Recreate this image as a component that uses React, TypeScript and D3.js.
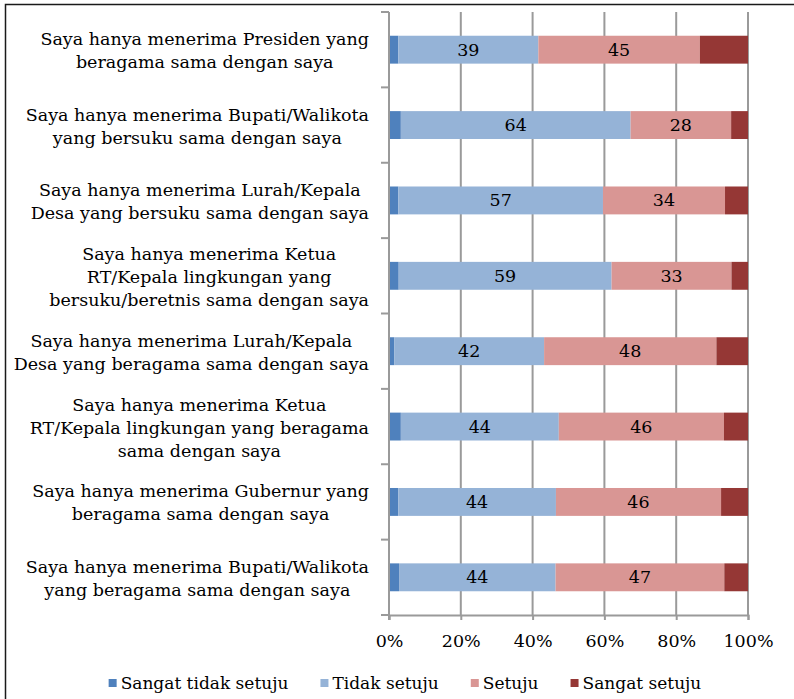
import { useEffect, useRef } from "react";
import * as d3 from "d3";

// category labels, already broken into lines as in the original chart
const categories = [
    ["Saya hanya menerima Presiden yang", "beragama sama dengan saya"],
    ["Saya hanya menerima Bupati/Walikota", "yang bersuku sama dengan saya"],
    ["Saya hanya menerima Lurah/Kepala", "Desa yang bersuku sama dengan saya"],
    ["Saya hanya menerima Ketua", "RT/Kepala lingkungan yang", "bersuku/beretnis sama dengan saya"],
    ["Saya hanya menerima Lurah/Kepala", "Desa yang beragama sama dengan saya"],
    ["Saya hanya menerima Ketua", "RT/Kepala lingkungan yang beragama", "sama dengan saya"],
    ["Saya hanya menerima Gubernur yang", "beragama sama dengan saya"],
    ["Saya hanya menerima Bupati/Walikota", "yang beragama sama dengan saya"],
];

const seriesNames = ["Sangat tidak setuju", "Tidak setuju", "Setuju", "Sangat setuju"];

const sangatTidakSetuju = [2.6, 3.3, 2.6, 2.7, 1.5, 3.3, 2.6, 2.8];
const tidakSetuju = [39, 64, 57, 59.3, 41.7, 44, 43.9, 43.6];
const setuju = [45, 28, 34, 33.4, 48, 46, 46, 47];
const sangatSetuju = [13.4, 4.7, 6.4, 4.6, 8.8, 6.7, 7.5, 6.6];

const tickValues = [0, 20, 40, 60, 80, 100];
const labelledSeries = ["Tidak setuju", "Setuju"];

const colors = ["#4f81bd", "#95b3d7", "#d99694", "#953735"];

type Row = { [key: string]: number };

export default function App() {
    const chartRef = useRef<SVGSVGElement | null>(null);

    useEffect(() => {
        if (!chartRef.current) return;

        const font = "'DejaVu Serif', serif";
        const left = 389;
        const right = 748;
        const top = 12;
        const bottom = 615;

        const svg = d3.select(chartRef.current);
        svg.selectAll("*").remove();

        // outer frame (runs off the right and bottom edge like the screenshot)
        svg.append("rect")
            .attr("x", 5.5)
            .attr("y", 4.5)
            .attr("width", 830)
            .attr("height", 760)
            .attr("fill", "white")
            .attr("stroke", "#1a1a1a")
            .attr("stroke-width", 1.5);

        const rows: Row[] = categories.map((_, i) => ({
            index: i,
            [seriesNames[0]]: sangatTidakSetuju[i],
            [seriesNames[1]]: tidakSetuju[i],
            [seriesNames[2]]: setuju[i],
            [seriesNames[3]]: sangatSetuju[i],
        }));

        const stacked = d3.stack<Row>().keys(seriesNames)(rows);

        const x = d3.scaleLinear().domain([0, 100]).range([left, right]);
        const y = d3.scaleBand<number>()
            .domain(d3.range(categories.length))
            .range([top, bottom])
            .paddingInner(0.63)
            .paddingOuter(0.315);

        const color = d3.scaleOrdinal<string, string>().domain(seriesNames).range(colors);

        // vertical gridlines
        svg.append("g")
            .selectAll("line")
            .data(tickValues.filter((d) => d > 0))
            .enter()
            .append("line")
            .attr("x1", (d) => x(d))
            .attr("x2", (d) => x(d))
            .attr("y1", top)
            .attr("y2", bottom)
            .attr("stroke", "#9a9a9a")
            .attr("stroke-width", 2);

        // bars
        const layer = svg.append("g")
            .selectAll("g")
            .data(stacked)
            .enter()
            .append("g")
            .attr("fill", (d) => color(d.key));

        layer.selectAll("rect")
            .data((d) => d)
            .enter()
            .append("rect")
            .attr("x", (d) => x(d[0]))
            .attr("width", (d) => x(d[1]) - x(d[0]))
            .attr("y", (d) => y(d.data.index)!)
            .attr("height", y.bandwidth());

        // value labels
        svg.append("g")
            .selectAll("g")
            .data(stacked.filter((s) => labelledSeries.includes(s.key)))
            .enter()
            .append("g")
            .selectAll("text")
            .data((d) => d)
            .enter()
            .append("text")
            .attr("x", (d) => (x(d[0]) + x(d[1])) / 2)
            .attr("y", (d) => y(d.data.index)! + y.bandwidth() / 2 + 6)
            .attr("text-anchor", "middle")
            .attr("font-family", font)
            .attr("font-size", "17.5px")
            .attr("fill", "#000")
            .text((d) => d3.format(".0f")(d[1] - d[0]));

        // x axis
        const xAxis = svg.append("g")
            .attr("transform", `translate(0, ${bottom})`)
            .call(d3.axisBottom(x).tickValues(tickValues).tickFormat((d) => `${d}%`).tickSize(5).tickPadding(15));
        xAxis.select(".domain").attr("stroke", "#9a9a9a").attr("stroke-width", 2);
        xAxis.selectAll(".tick line").attr("stroke", "#9a9a9a").attr("stroke-width", 2);
        xAxis.selectAll(".tick text")
            .attr("font-family", font)
            .attr("font-size", "17.5px")
            .attr("fill", "#000");

        // y axis line with ticks at category boundaries
        svg.append("line")
            .attr("x1", left)
            .attr("x2", left)
            .attr("y1", top)
            .attr("y2", bottom + 5)
            .attr("stroke", "#9a9a9a")
            .attr("stroke-width", 2);

        svg.append("g")
            .selectAll("line")
            .data(d3.range(categories.length + 1))
            .enter()
            .append("line")
            .attr("x1", left - 8)
            .attr("x2", left)
            .attr("y1", (k) => top + k * y.step())
            .attr("y2", (k) => top + k * y.step())
            .attr("stroke", "#9a9a9a")
            .attr("stroke-width", 2);

        // category labels: each block right aligned, lines centred inside it
        const labelRight = 369;
        const lineHeight = 23;
        categories.forEach((lines, i) => {
            const cy = y(i)! + y.bandwidth() / 2 + 1;
            const g = svg.append("g");
            const texts = g.selectAll("text")
                .data(lines)
                .enter()
                .append("text")
                .attr("y", (_, j) => cy + (j - (lines.length - 1) / 2) * lineHeight + 6)
                .attr("text-anchor", "middle")
                .attr("font-family", font)
                .attr("font-size", "17.5px")
                .attr("fill", "#000")
                .text((d) => d);
            const widths = texts.nodes().map((n) => (n as SVGTextElement).getComputedTextLength());
            const blockWidth = d3.max(widths) ?? 0;
            texts.attr("x", labelRight - blockWidth / 2);
        });

        // legend
        const legend = svg.append("g");
        const items = legend.selectAll("g")
            .data(seriesNames)
            .enter()
            .append("g");
        items.append("rect")
            .attr("width", 8)
            .attr("height", 8)
            .attr("y", 679)
            .attr("fill", (d) => color(d));
        items.append("text")
            .attr("x", 12)
            .attr("y", 689)
            .attr("font-family", font)
            .attr("font-size", "17px")
            .attr("fill", "#000")
            .text((d) => d);
        const itemWidths = items.nodes().map((n) => (n as SVGGElement).getBBox().width);
        const gap = 32;
        const total = d3.sum(itemWidths) + gap * (itemWidths.length - 1);
        let cursor = 405 - total / 2;
        items.each(function (_, i) {
            d3.select(this).attr("transform", `translate(${cursor}, 0)`);
            cursor += itemWidths[i] + gap;
        });
    }, []);

    return (
        <svg
            ref={chartRef}
            width={794}
            height={699}
            style={{ position: "absolute", left: 0, top: 0, display: "block" }}
        ></svg>
    );
}
